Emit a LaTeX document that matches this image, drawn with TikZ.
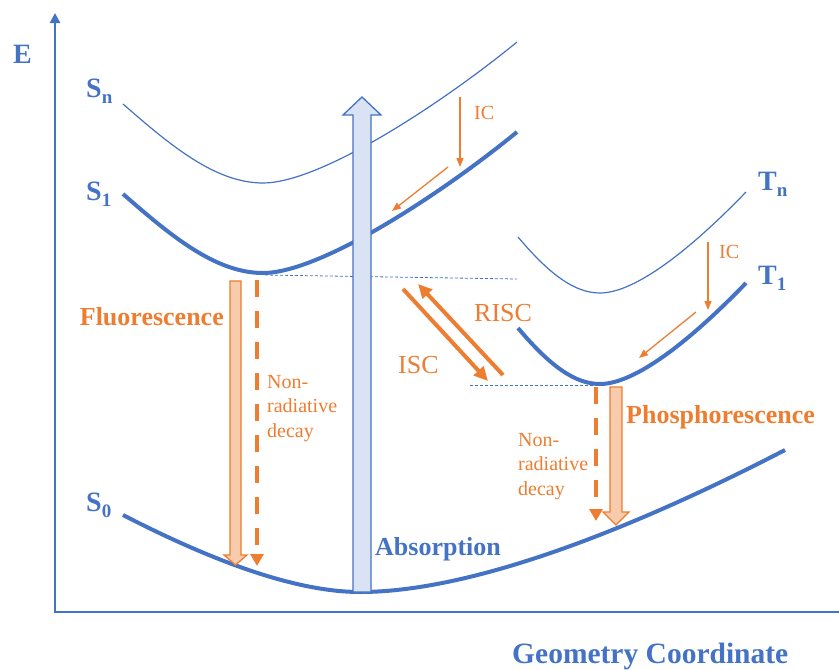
\documentclass[tikz,border=0pt]{standalone}
\usepackage{fontspec}
\setmainfont{Liberation Serif}
\usetikzlibrary{arrows.meta}
\definecolor{eblue}{HTML}{4472C4}
\definecolor{eorange}{HTML}{ED7D31}
\definecolor{lorange}{HTML}{F8CBAD}
\definecolor{lblue}{HTML}{DAE3F3}
% state label with a lowered index
\newcommand{\lvl}[2]{#1\raisebox{-6pt}{\fontsize{19}{19}\selectfont #2}}

\tikzset{
	axis/.style={draw=eblue, line width=2.5pt},
	thickpes/.style={draw=eblue, line width=4pt},
	thinpes/.style={draw=eblue, line width=1.2pt},
	guide/.style={draw=eblue, line width=0.8pt, dash pattern=on 3pt off 2pt},
	absorb/.style={draw=eblue, fill=lblue, line width=1.3pt, line join=miter},
	emit/.style={draw=eorange, fill=lorange, line width=1.3pt, line join=miter},
	nonrad/.style={draw=eorange, line width=4pt, dash pattern=on 17pt off 14pt, -{Triangle[length=12pt,width=13pt]}},
	cross/.style={draw=eorange, line width=4pt, -{Triangle[length=14pt,width=13pt]}},
	relax/.style={draw=eorange, line width=1.3pt, -{Triangle[length=9pt,width=7pt]}},
	lbl/.style={inner sep=0pt, anchor=base west},
	statelbl/.style={lbl, text=eblue, font=\bfseries\fontsize{28}{28}\selectfont},
	proclbl/.style={lbl, text=eorange, font=\bfseries\fontsize{26}{26}\selectfont},
	steplbl/.style={lbl, text=eorange, font=\fontsize{26}{26}\selectfont},
	iclbl/.style={lbl, text=eorange, font=\fontsize{20}{20}\selectfont},
	decaylbl/.style={inner sep=0pt, anchor=north west, align=left, text=eorange, font=\fontsize{20}{24.5}\selectfont}
}

\begin{document}
\begin{tikzpicture}[x=1pt, y=-1pt]
	\useasboundingbox (0,0) rectangle (839,670);
	% axes
	\coordinate (ytop) at (55,13);
	\coordinate (origin) at (55,612);
	\coordinate (xend) at (839,612);
	\draw[axis, {Triangle[length=10pt,width=10pt]}-] (ytop) -- (origin) -- (xend);
	\node[statelbl] (E) at (13,63) {E};
	\node[lbl, text=eblue, font=\bfseries\fontsize{29.5}{29.5}\selectfont] (geo) at (512,663) {Geometry Coordinate};
	% levelling lines
	\draw[guide] (265,275) -- (517,279);
	\draw[guide] (470,385) -- (600,385);
	% singlet curves
	\draw[thinpes] (123,104) .. controls (170,145) and (215,183) .. (263,183) .. controls (320,183) and (440,105) .. (517,42);
	\draw[thickpes] (123,194) .. controls (170,235) and (215,273) .. (263,273) .. controls (320,273) and (440,195) .. (517,132);
	\draw[thickpes] (123,515) .. controls (220,565) and (300,592) .. (360,592) .. controls (480,592) and (650,520) .. (785,450);
	% triplet curves
	\draw[thinpes] (518,237) .. controls (550,275) and (575,293) .. (600,293) .. controls (635,293) and (690,250) .. (746,192);
	\draw[thickpes] (518,328) .. controls (550,366) and (575,384) .. (600,384) .. controls (635,384) and (690,341) .. (746,283);
	\node[statelbl] (Sn) at (86,97) {\lvl{S}{n}};
	\node[statelbl] (S1) at (86,200) {\lvl{S}{1}};
	\node[statelbl] (S0) at (86,511) {\lvl{S}{0}};
	\node[statelbl] (Tn) at (758,190) {\lvl{T}{n}};
	\node[statelbl] (T1) at (758,284) {\lvl{T}{1}};
	% block arrows
	\filldraw[absorb] (353,592) -- (353,115) -- (343,115) -- (362,97) -- (381,115) -- (371,115) -- (371,592) -- cycle;
	\filldraw[emit] (230,281) -- (230,555) -- (224,555) -- (235.5,565) -- (247,555) -- (241,555) -- (241,281) -- cycle;
	\filldraw[emit] (610,387) -- (610,512) -- (603,512) -- (616,525) -- (629,512) -- (622,512) -- (622,387) -- cycle;
	\node[lbl, text=eblue, font=\bfseries\fontsize{26}{26}\selectfont] (abs) at (375,555) {Absorption};
	\node[proclbl, anchor=base east] (flu) at (224,325) {Fluorescence};
	\node[proclbl] (phos) at (626,423) {Phosphorescence};
	% non-radiative decay
	\coordinate (nrs1) at (257,280);
	\coordinate (nrs0) at (257,566);
	\coordinate (nrt1) at (596,387);
	\coordinate (nrt0) at (596,521);
	\draw[nonrad] (nrs1) -- (nrs0);
	\draw[nonrad] (nrt1) -- (nrt0);
	\node[decaylbl] (nr1) at (267,375) {Non-\\radiative\\decay};
	\node[decaylbl] (nr2) at (518,433) {Non-\\radiative\\decay};
	% intersystem crossing
	\coordinate (iscA) at (403,289);
	\coordinate (iscB) at (488,381);
	\coordinate (riscA) at (503,375);
	\coordinate (riscB) at (418,284);
	\draw[cross] (iscA) -- (iscB);
	\draw[cross] (riscA) -- (riscB);
	\node[steplbl] (isc) at (398,373) {ISC};
	\node[steplbl] (risc) at (474,321) {RISC};
	% internal conversion
	\coordinate (icA) at (460,97);
	\coordinate (icB) at (460,167);
	\coordinate (icC) at (448,167);
	\coordinate (icD) at (392,211);
	\coordinate (icE) at (708,242);
	\coordinate (icF) at (708,310);
	\coordinate (icG) at (696,312);
	\coordinate (icH) at (639,358);
	\draw[relax] (icA) -- (icB);
	\draw[relax] (icC) -- (icD);
	\draw[relax] (icE) -- (icF);
	\draw[relax] (icG) -- (icH);
	\node[iclbl] (ic1) at (474,119) {IC};
	\node[iclbl] (ic2) at (719,258) {IC};
\end{tikzpicture}
\end{document}
